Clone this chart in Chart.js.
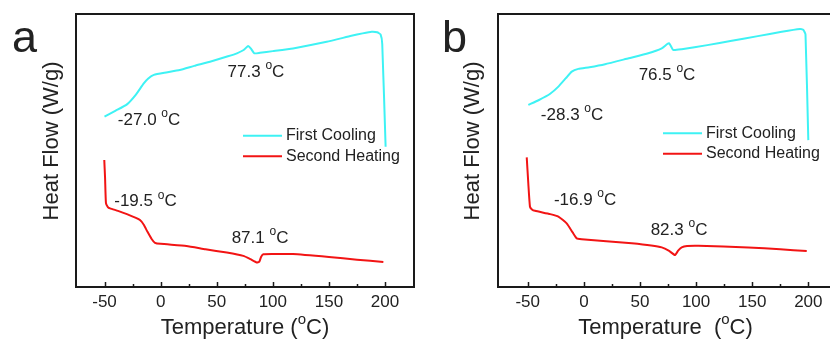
<!DOCTYPE html>
<html>
<head>
<meta charset="utf-8">
<script src="https://cdn.jsdelivr.net/npm/chart.js@4.4.0/dist/chart.umd.min.js"></script>
<style>
  html, body { margin: 0; padding: 0; background: #fff; overflow: hidden; }
  #wrap { position: relative; width: 830px; height: 345px; overflow: hidden; }
  canvas { position: absolute; top: 0; }
  #cA { left: 0; }
  #cB { left: 415px; }
</style>
</head>
<body>
<div id="wrap">
  <canvas id="cA" width="415" height="345"></canvas>
  <canvas id="cB" width="420" height="345"></canvas>
</div>
<script>
// Temperature (°C) vs heat flow (arbitrary units)
const xTicks = [-50, 0, 50, 100, 150, 200];
const xMinorTicks = [-25, 25, 75, 125, 175];

// panel a
const aCoolT  = [-50, -40, -30, -22, -15, -11, -6, 5, 17, 30, 44, 60, 68, 74, 78, 80.5, 83.5, 88.5, 100, 118, 148, 170, 180, 188, 193, 196, 197.5, 200.5];
const aCoolHF = [62.4, 64.6, 66.9, 70.5, 74.6, 76.4, 77.7, 78.6, 79.5, 81.0, 82.5, 84.5, 85.6, 86.8, 88.3, 87.3, 85.6, 85.8, 86.4, 87.4, 89.8, 92.0, 92.9, 93.5, 93.3, 92.5, 89, 51.4];
const aHeatT  = [-50.2, -49.5, -48.7, -47, -45, -38, -30, -22, -18.4, -15, -11.8, -8, -5, 0, 23, 40, 59, 73.7, 80, 85.6, 88, 89.5, 91.5, 100, 118, 150, 175, 198.5];
const aHeatHF = [46.5, 40, 30.7, 29.3, 28.8, 27.9, 26.7, 25.3, 24.5, 22.8, 20.3, 17.6, 16.2, 15.8, 15.0, 13.8, 12.6, 11.4, 10.2, 9.0, 9.3, 11.0, 12.0, 12.1, 12.1, 11.0, 10.0, 9.2];

// panel b
const bCoolT  = [-49.5, -40, -30, -22.7, -16, -10.8, -4.9, 5, 18.9, 40, 57.4, 69.4, 74, 75.9, 77.5, 79.7, 87.2, 110, 131.8, 155, 176.3, 192.6, 195.5, 197.5, 200];
const bCoolHF = [66.7, 68.5, 70.8, 73.4, 76.5, 78.9, 79.9, 80.5, 81.6, 83.8, 85.6, 87.4, 88.9, 89.3, 88.3, 86.8, 87.1, 88.6, 90.2, 91.9, 93.5, 94.5, 94.2, 92.5, 53.8];
const bHeatT  = [-50.9, -49.5, -48, -46, -43.5, -30, -22.7, -15.3, -10, -6.3, -1.9, 20, 42.7, 60, 69.4, 76, 81.2, 84, 87.2, 92, 102, 146.5, 175, 198.6];
const bHeatHF = [47.5, 38, 29.4, 28.3, 27.9, 26.7, 25.8, 23.3, 20, 17.8, 17.5, 16.8, 16.0, 15.2, 14.5, 13.2, 11.7, 13.3, 14.5, 15.0, 15.1, 14.5, 13.8, 13.2];

const seriesNames = ['First Cooling', 'Second Heating'];
const seriesColors = ['#3ef2f4', '#f21414'];

// transition labels: [value, x, y]
const aLabels = [['77.3', 85.0, 78.8], ['-27.0', -10.3, 61.2], ['-19.5', -13.5, 31.3], ['87.1', 88.6, 17.9]];
const bLabels = [['76.5', 74.1, 77.7], ['-28.3', -10.5, 63.0], ['-16.9', 1.1, 31.9], ['82.3', 84.8, 20.9]];

const FONT = "'Liberation Sans', Arial, sans-serif";

function pts(xs, ys) {
  return xs.map((x, i) => ({ x: x, y: ys[i] }));
}

// draws text pieces, with a raised small "o" for the degree sign
function drawParts(ctx, parts, x, y, align) {
  let total = 0;
  parts.forEach(p => {
    ctx.font = p.size + 'px ' + FONT;
    p.w = ctx.measureText(p.t).width;
    total += p.w;
  });
  let cx = align === 'center' ? x - total / 2 : x;
  ctx.textBaseline = 'middle';
  ctx.textAlign = 'left';
  parts.forEach(p => {
    ctx.font = p.size + 'px ' + FONT;
    ctx.fillText(p.t, cx, y + (p.dy || 0));
    cx += p.w;
  });
}

function degParts(pre, post, size) {
  return [
    { t: pre, size: size },
    { t: 'o', size: Math.round(size * 0.68), dy: -size * 0.36 },
    { t: post, size: size }
  ];
}

function makeDeco(opt) {
  return {
    id: 'deco',
    afterDatasetsDraw(chart) {
      const ctx = chart.ctx;
      const a = chart.chartArea;
      const xs = chart.scales.x, ys = chart.scales.y;
      ctx.save();
      // frame
      ctx.strokeStyle = '#1a1a1a';
      ctx.lineWidth = 2;
      ctx.strokeRect(a.left, a.top, a.right - a.left, a.bottom - a.top);
      // inward ticks
      ctx.lineWidth = 1.5;
      xTicks.forEach(v => {
        const px = Math.round(xs.getPixelForValue(v)) + 0.5;
        ctx.beginPath(); ctx.moveTo(px, a.bottom); ctx.lineTo(px, a.bottom - 5); ctx.stroke();
      });
      xMinorTicks.forEach(v => {
        const px = Math.round(xs.getPixelForValue(v)) + 0.5;
        ctx.beginPath(); ctx.moveTo(px, a.bottom); ctx.lineTo(px, a.bottom - 3); ctx.stroke();
      });

      ctx.fillStyle = '#222';
      // transition labels
      opt.labels.forEach(l => {
        drawParts(ctx, degParts(l[0] + ' ', 'C', 17), xs.getPixelForValue(l[1]), ys.getPixelForValue(l[2]), 'center');
      });

      // legend
      seriesNames.forEach((n, i) => {
        const ly = opt.legY + i * 20.5;
        ctx.strokeStyle = seriesColors[i];
        ctx.lineWidth = 2;
        ctx.beginPath(); ctx.moveTo(opt.legX, ly); ctx.lineTo(opt.legX + 39, ly); ctx.stroke();
        ctx.fillStyle = '#222';
        ctx.font = '16px ' + FONT;
        ctx.textBaseline = 'middle';
        ctx.textAlign = 'left';
        ctx.fillText(n, opt.legX + 43, ly);
      });

      // axis titles
      const midX = (a.left + a.right) / 2;
      drawParts(ctx, degParts(opt.xTitle, 'C)', 22), midX, 328, 'center');
      ctx.save();
      ctx.translate(opt.yTitleX, 141);
      ctx.rotate(-Math.PI / 2);
      ctx.font = '22px ' + FONT;
      ctx.textAlign = 'center';
      ctx.textBaseline = 'middle';
      ctx.fillText('Heat Flow (W/g)', 0, 0);
      ctx.restore();

      // panel letter
      ctx.font = '45px ' + FONT;
      ctx.textAlign = 'left';
      ctx.textBaseline = 'alphabetic';
      ctx.fillText(opt.letter, opt.letterX, 52);
      ctx.restore();
    }
  };
}

function makeChart(id, cool, heat, opt) {
  const ds = [cool, heat].map((d, i) => ({
    label: seriesNames[i],
    data: d,
    borderColor: seriesColors[i],
    borderWidth: 2,
    pointRadius: 0,
    tension: 0.15,
    fill: false
  }));
  return new Chart(document.getElementById(id), {
    type: 'line',
    data: { datasets: ds },
    options: {
      responsive: false,
      animation: false,
      devicePixelRatio: 1,
      layout: { padding: { left: opt.left, top: 14, right: opt.right, bottom: 0 } },
      plugins: { legend: { display: false }, tooltip: { enabled: false } },
      scales: {
        x: {
          type: 'linear',
          min: opt.min,
          max: opt.max,
          grid: { display: false, drawTicks: false },
          border: { display: false },
          afterFit: s => { s.height = 58; },
          afterBuildTicks: s => { s.ticks = xTicks.map(v => ({ value: v })); },
          ticks: {
            padding: 5,
            color: '#222',
            font: { family: FONT, size: 17 },
            maxRotation: 0,
            autoSkip: false
          }
        },
        y: { display: false, min: 0, max: 100 }
      }
    },
    plugins: [makeDeco(opt)]
  });
}

makeChart('cA', pts(aCoolT, aCoolHF), pts(aHeatT, aHeatHF), {
  left: 76, right: 1, min: -75.4, max: 225.8,
  labels: aLabels, legX: 243, legY: 135.7,
  xTitle: 'Temperature (', yTitleX: 52, letter: 'a', letterX: 12
});
makeChart('cB', pts(bCoolT, bCoolHF), pts(bHeatT, bHeatHF), {
  left: 83, right: 2, min: -76.5, max: 222,
  labels: bLabels, legX: 248, legY: 133.3,
  xTitle: 'Temperature  (', yTitleX: 57.5, letter: 'b', letterX: 27
});
</script>
</body>
</html>
